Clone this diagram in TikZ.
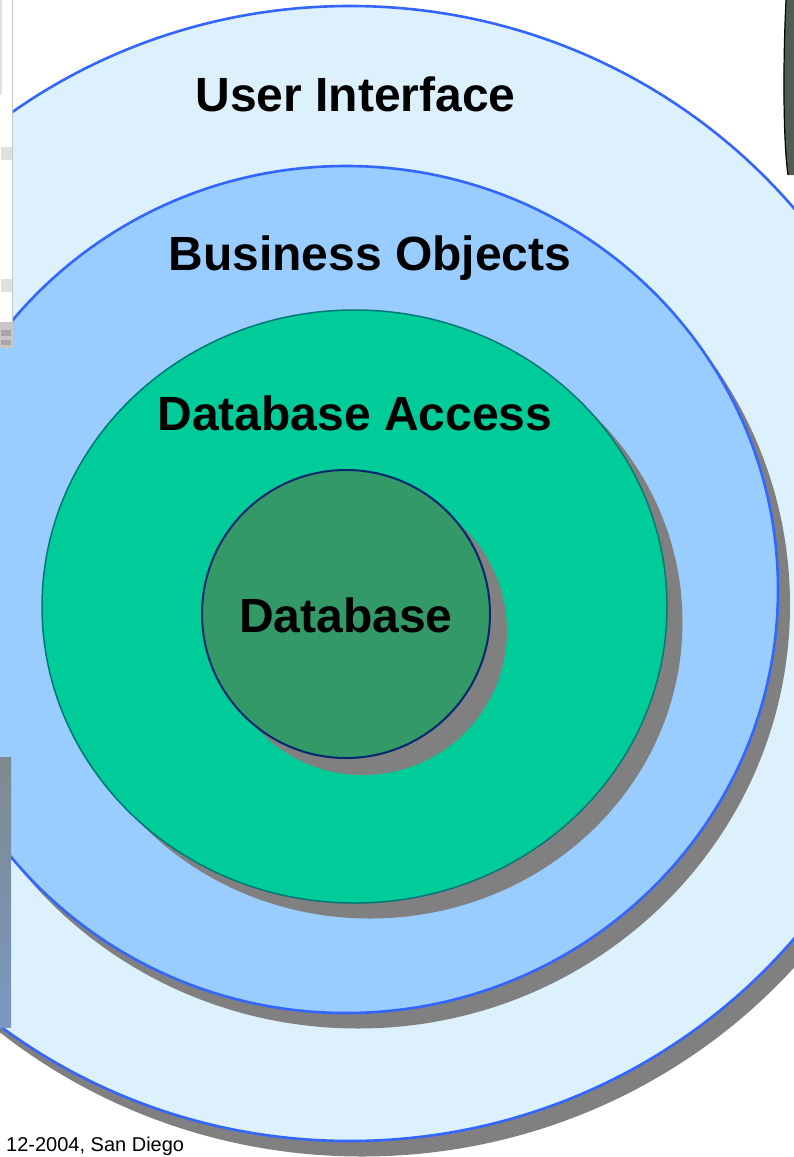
\documentclass[tikz,border=0pt]{standalone}
\usepackage{fontspec}
\setmainfont{Liberation Sans}
\definecolor{uifill}{RGB}{221,241,253}
\definecolor{bofill}{RGB}{153,204,255}
\definecolor{dafill}{RGB}{0,204,153}
\definecolor{dbfill}{RGB}{51,153,102}
\definecolor{ringblue}{RGB}{51,102,255}
\definecolor{dateal}{RGB}{0,120,120}
\definecolor{dbnavy}{RGB}{0,40,110}
\definecolor{shadowgray}{RGB}{128,128,128}
\definecolor{panelgray}{RGB}{200,200,200}
\definecolor{darkobj}{RGB}{78,92,84}
\begin{document}
\begin{tikzpicture}[x=1pt,y=-1pt,
  layerlabel/.style={font=\fontsize{48}{58}\selectfont\bfseries, anchor=base, inner sep=0pt},
  shadowfill/.style={fill=shadowgray},
  bluering/.style={draw=ringblue, line width=2.6pt}]
\useasboundingbox (0,0) rectangle (794,1157);
\clip (0,0) rectangle (794,1157);
% User Interface
\fill[shadowfill] (362,589) ellipse [x radius=580, y radius=567.5];
\filldraw[fill=uifill, bluering] (350,573.5) ellipse [x radius=580, y radius=567.5];
% Business Objects
\fill[shadowfill] (358,605) ellipse [x radius=432, y radius=423.5];
\filldraw[fill=bofill, bluering] (346,589.5) ellipse [x radius=432, y radius=423.5];
% Database Access
\fill[shadowfill] (370,622) ellipse [x radius=312.5, y radius=296.5];
\filldraw[fill=dafill, draw=dateal, line width=1.5pt] (354.5,606.5) ellipse [x radius=312.5, y radius=296.5];
% Database
\fill[shadowfill] (363,631) circle [radius=144];
\filldraw[fill=dbfill, draw=dbnavy, line width=2pt] (346,614) circle [radius=144];
% labels
\node[layerlabel] (ui) at (355.5,111) {User Interface};
\node[layerlabel] (bo) at (370,270) {Business Objects};
\node[layerlabel] (da) at (355,430) {Database Access};
\node[layerlabel] (db) at (346,632) {Database};
% fragments at the edges
\fill[white] (0,0) rectangle (13,348);
\draw[panelgray, line width=1pt] (12.5,0) -- (12.5,348);
\fill[black!12] (0,0) rectangle (1.5,95);
\fill[black!12] (1,147) rectangle (12,160);
\fill[black!12] (1,279) rectangle (12,292);
\fill[black!22] (0,322) rectangle (12,348);
\fill[black!35] (1,330) rectangle (11,336);
\fill[black!35] (1,340) rectangle (11,345);
\shade[top color={rgb,255:red,125;green,138;blue,143}, bottom color={rgb,255:red,122;green,152;blue,192}] (0,757) rectangle (11,1027);
\fill[darkobj] (794,0) -- (786,0) .. controls (783,60) and (783,140) .. (788,175) -- (794,175) -- cycle;
\draw[black, line width=1.2pt] (786,0) .. controls (783,60) and (783,140) .. (788,175);
\node[font=\fontsize{20}{24}\selectfont, anchor=base west, inner sep=0pt] (date) at (6,1151) {12-2004, San Diego};
\end{tikzpicture}
\end{document}
